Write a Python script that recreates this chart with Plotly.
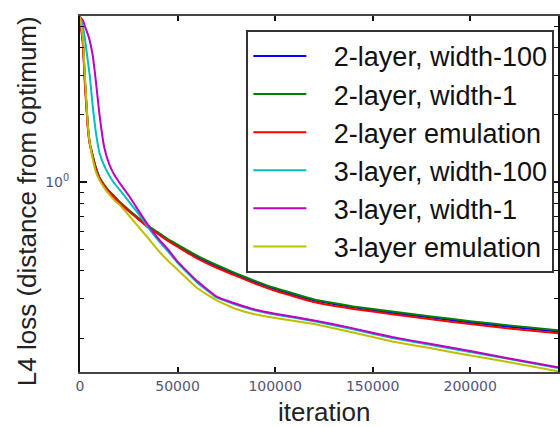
import plotly.graph_objects as go

iters = [0, 1500, 2500, 4000, 5000, 6500, 8000, 10000, 12500, 15000, 17500, 20000,
         25000, 30000, 35000, 40000, 45000, 50000, 60000, 70000, 80000, 90000,
         100000, 120000, 140000, 160000, 180000, 200000, 220000, 245000]

loss_2l_w100 = [5.5, 4.25, 2.85, 1.78, 1.49, 1.31, 1.17, 1.045, 0.965, 0.905, 0.86, 0.815,
                0.745, 0.685, 0.63, 0.59, 0.55, 0.52, 0.463, 0.42, 0.386, 0.356,
                0.332, 0.295, 0.275, 0.26, 0.247, 0.235, 0.225, 0.214]
loss_2l_w1 = [5.5, 4.3, 2.9, 1.8, 1.5, 1.32, 1.17, 1.05, 0.97, 0.91, 0.865, 0.82,
              0.75, 0.69, 0.635, 0.595, 0.555, 0.525, 0.468, 0.425, 0.39, 0.36,
              0.335, 0.298, 0.277, 0.263, 0.25, 0.238, 0.228, 0.217]
loss_2l_emu = [5.5, 4.1, 2.75, 1.75, 1.48, 1.3, 1.16, 1.04, 0.96, 0.9, 0.855, 0.81,
               0.74, 0.68, 0.625, 0.585, 0.545, 0.513, 0.455, 0.413, 0.38, 0.35,
               0.326, 0.29, 0.27, 0.256, 0.243, 0.231, 0.221, 0.21]
loss_3l_w100 = [5.5, 4.95, 4.4, 3.5, 3.0, 2.2, 1.7, 1.35, 1.18, 1.07, 0.99, 0.93,
                0.82, 0.72, 0.625, 0.55, 0.49, 0.435, 0.355, 0.304, 0.282, 0.266,
                0.255, 0.238, 0.219, 0.2, 0.186, 0.173, 0.161, 0.147]
loss_3l_w1 = [5.5, 5.3, 5.0, 4.6, 4.3, 3.7, 2.9, 2.0, 1.42, 1.2, 1.08, 1.0,
              0.87, 0.745, 0.64, 0.56, 0.5, 0.44, 0.36, 0.307, 0.285, 0.268,
              0.257, 0.24, 0.221, 0.202, 0.188, 0.175, 0.162, 0.148]
loss_3l_emu = [5.5, 4.45, 3.0, 1.8, 1.5, 1.27, 1.12, 1.02, 0.94, 0.88, 0.83, 0.795,
               0.71, 0.63, 0.56, 0.495, 0.445, 0.405, 0.335, 0.295, 0.27, 0.255,
               0.246, 0.231, 0.212, 0.193, 0.18, 0.167, 0.156, 0.142]

names = ["2-layer, width-100", "2-layer, width-1", "2-layer emulation",
         "3-layer, width-100", "3-layer, width-1", "3-layer emulation"]
series = [loss_2l_w100, loss_2l_w1, loss_2l_emu, loss_3l_w100, loss_3l_w1, loss_3l_emu]
colors = ["#0000ff", "#008000", "#ff0000", "#00bfbf", "#bf00bf", "#bfbf00"]

x_ticks = [0, 50000, 100000, 150000, 200000]
y_minor = [0.2, 0.3, 0.4, 0.5, 0.6, 0.7, 0.8, 0.9, 2, 3, 4, 5]

fig = go.Figure()
for i, (n, s, c) in enumerate(zip(names, series, colors)):
    fig.add_trace(go.Scatter(x=iters, y=s, name="\u00a0\u00a0\u00a0" + n, mode="lines",
                             line=dict(color=c, width=2, shape="spline", smoothing=0.3),
                             legendgroup=str(i)))

fig.update_layout(
    width=560, height=427,
    margin=dict(l=80, r=0, t=16, b=55),
    paper_bgcolor="white", plot_bgcolor="white",
    showlegend=True,
    legend=dict(x=0.348, y=0.961, xanchor="left", yanchor="top",
                bgcolor="white", bordercolor="#333", borderwidth=2,
                font=dict(family="Liberation Sans, Arial", size=27, color="#111"),
                tracegroupgap=0, itemwidth=53),
    font=dict(family="Liberation Sans, Arial", color="#222"),
    annotations=[
        dict(text="iteration", xref="paper", yref="paper", x=(326 - 80) / 480, y=-(412 - 372) / 356,
             xanchor="center", yanchor="middle", showarrow=False,
             font=dict(family="Liberation Sans, Arial", size=26, color="#222")),
        dict(text="L4 loss (distance from optimum)", xref="paper", yref="paper",
             x=(27 - 80) / 480, y=(372 - 201) / 356, textangle=-90,
             xanchor="center", yanchor="middle", showarrow=False,
             font=dict(family="Liberation Sans, Arial", size=26, color="#222")),
    ],
)
fig.update_xaxes(
    range=[0, 245000], tickvals=x_ticks, ticktext=[str(v) for v in x_ticks],
    ticks="inside", ticklen=5, tickwidth=2, tickcolor="#111",
    showline=True, linecolor="#444", linewidth=2, mirror="allticks",
    showgrid=False, zeroline=False,
    tickfont=dict(family="DejaVu Sans", size=14, color="#557"),
)
fig.update_yaxes(
    type="log", range=[-0.851, 0.744],
    tickvals=[1], ticktext=["10<sup>0</sup>"],
    ticks="inside", ticklen=7, tickwidth=2, tickcolor="#111",
    minor=dict(tickvals=y_minor, ticks="inside", ticklen=4, tickcolor="#111", tickwidth=1),
    showline=True, linecolor="#111", linewidth=2, mirror="allticks",
    showgrid=False, zeroline=False,
    tickfont=dict(family="DejaVu Sans", size=14, color="#557"),
    ticklabelstandoff=6,
)

fig.write_html("out.html")
